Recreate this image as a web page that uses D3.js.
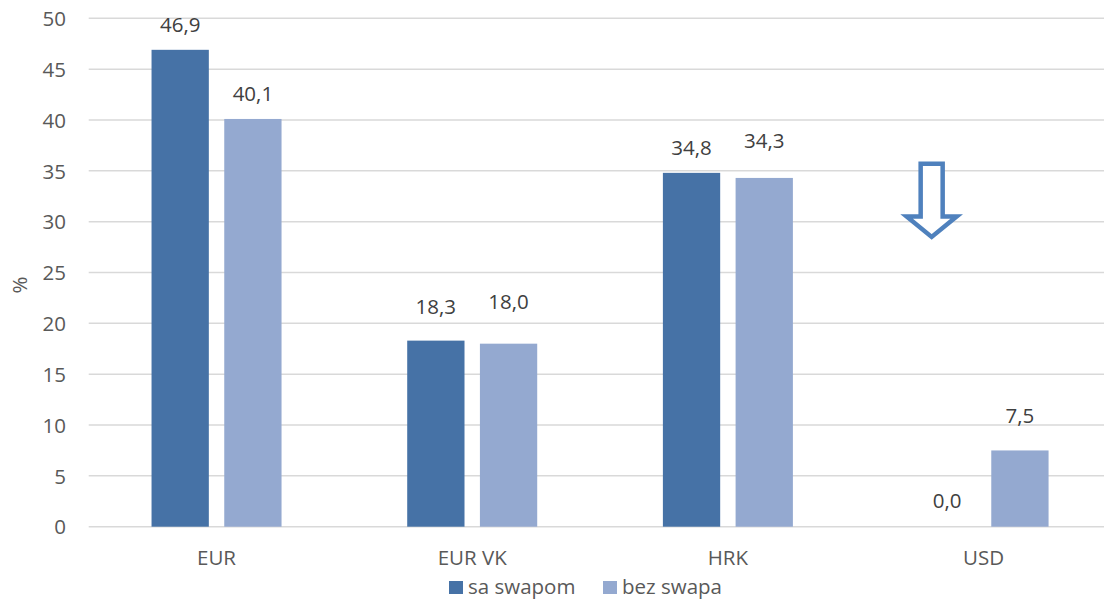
<!DOCTYPE html>
<html>
<head>
<meta charset="utf-8">
<script src="https://cdn.jsdelivr.net/npm/d3@7"></script>
<style>
  html, body { margin: 0; padding: 0; background: #fff; }
  svg { display: block; font-family: "Open Sans", "Noto Sans", sans-serif; }
</style>
</head>
<body>
<svg id="chart" width="1104" height="600"></svg>
<script>
// Currency categories and the two series (percent)
const categories = ["EUR", "EUR VK", "HRK", "USD"];
const seriesNames = ["sa swapom", "bez swapa"];
const saSwapom = [46.9, 18.3, 34.8, 0.0];
const bezSwapa = [40.1, 18.0, 34.3, 7.5];
const yTicks = [0, 5, 10, 15, 20, 25, 30, 35, 40, 45, 50];

// Extra lift (px) for individual value labels, per series
const liftSa = [0, 9, 0, 1];
const liftBez = [0, 17, 12.5, 10];

const colors = { "sa swapom": "#4672a6", "bez swapa": "#94a9d0" };
const FS = 20.5;

const svg = d3.select("#chart");
const plot = { left: 88.7, right: 1111.4, top: 18.3, bottom: 526.7 };

const x0 = d3.scaleBand().domain(categories).range([plot.left, plot.right]).padding(0);
const x1 = d3.scaleBand().domain(seriesNames)
  .range([x0.bandwidth() / 2 - 65, x0.bandwidth() / 2 + 65])
  .paddingInner(0.212).paddingOuter(0);
const y = d3.scaleLinear().domain([0, 50]).range([plot.bottom, plot.top]);

// Gridlines
svg.append("g").selectAll("line").data(yTicks).join("line")
  .attr("x1", plot.left).attr("x2", 1104)
  .attr("y1", d => y(d)).attr("y2", d => y(d))
  .attr("stroke", "#d9d9d9").attr("stroke-width", 1.5);

// Y axis tick labels
const yAxis = d3.axisLeft(y).tickValues(yTicks).tickSize(0).tickPadding(0)
  .tickFormat(d3.format("d"));
const gy = svg.append("g").attr("transform", `translate(66,0)`).call(yAxis);
gy.select(".domain").remove();
gy.selectAll("text")
  .attr("font-family", "Open Sans")
  .attr("font-size", FS).attr("fill", "#595959")
  .attr("dy", "0.35em");

// Axis title
svg.append("text")
  .attr("transform", "translate(27,285) rotate(-90)")
  .attr("text-anchor", "middle")
  .attr("font-size", FS).attr("fill", "#595959")
  .text("%");

// Category labels
const xAxis = d3.axisBottom(x0).tickSize(0).tickPadding(0);
const gx = svg.append("g").attr("transform", `translate(0,${plot.bottom})`).call(xAxis);
gx.select(".domain").remove();
gx.selectAll("text")
  .attr("font-family", "Open Sans")
  .attr("font-size", FS).attr("fill", "#595959")
  .attr("dy", null).attr("y", 38.5);

// Bars
const rows = categories.map((c, i) => ({
  cat: c,
  vals: [
    { s: "sa swapom", v: saSwapom[i], lift: liftSa[i] },
    { s: "bez swapa", v: bezSwapa[i], lift: liftBez[i] }
  ]
}));

const fmt = v => v.toFixed(1).replace(".", ",");

const groups = svg.append("g").selectAll("g").data(rows).join("g")
  .attr("transform", d => `translate(${x0(d.cat)},0)`);

groups.selectAll("rect").data(d => d.vals).join("rect")
  .attr("x", d => x1(d.s))
  .attr("width", x1.bandwidth())
  .attr("y", d => y(d.v))
  .attr("height", d => y(0) - y(d.v))
  .attr("fill", d => colors[d.s]);

groups.selectAll("text").data(d => d.vals).join("text")
  .attr("x", d => x1(d.s) + x1.bandwidth() / 2)
  .attr("y", d => y(d.v) - 17.7 - d.lift)
  .attr("text-anchor", "middle")
  .attr("font-size", FS).attr("fill", "#404040")
  .text(d => fmt(d.v));

// Hollow down arrow over the USD group
const ax = x0("USD") + x0.bandwidth() * 0.297;
const aTop = y(35.7), aNeck = y(30.5), aTip = y(28.5);
const shaft = 11, head = 25;
const arrow = d3.path();
arrow.moveTo(ax - shaft, aTop);
arrow.lineTo(ax + shaft, aTop);
arrow.lineTo(ax + shaft, aNeck);
arrow.lineTo(ax + head, aNeck);
arrow.lineTo(ax, aTip);
arrow.lineTo(ax - head, aNeck);
arrow.lineTo(ax - shaft, aNeck);
arrow.closePath();
svg.append("path").attr("d", arrow.toString())
  .attr("fill", "#fff").attr("stroke", "#4f81bd")
  .attr("stroke-width", 4.5).attr("stroke-linejoin", "miter");

// Legend
const legendX = [449, 603];
const legend = svg.append("g").selectAll("g").data(seriesNames).join("g")
  .attr("transform", (d, i) => `translate(${legendX[i]},581)`);
legend.append("rect").attr("width", 14).attr("height", 13)
  .attr("fill", d => colors[d]);
legend.append("text").attr("x", 19).attr("y", 13)
  .attr("font-size", FS).attr("fill", "#595959")
  .text(d => d);
</script>
</body>
</html>
